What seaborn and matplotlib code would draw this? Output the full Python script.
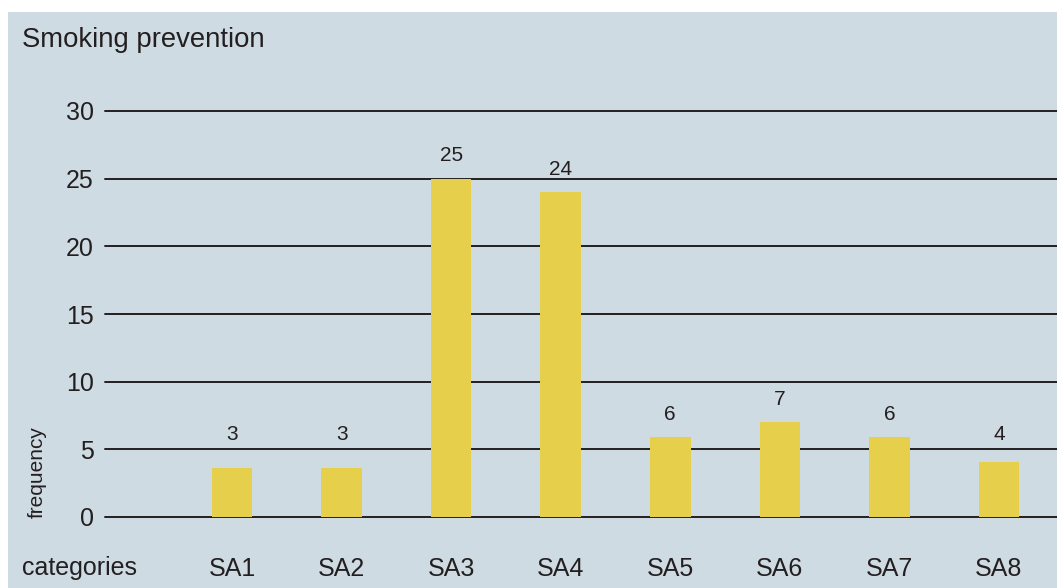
import matplotlib
matplotlib.use("Agg")
import matplotlib.pyplot as plt
import seaborn as sns
import pandas as pd
from matplotlib.patches import Rectangle

# Data
categories = ["SA1", "SA2", "SA3", "SA4", "SA5", "SA6", "SA7", "SA8"]
bar_heights = [3.6, 3.6, 25, 24, 5.9, 7, 5.9, 4.1]
value_labels = ["3", "3", "25", "24", "6", "7", "6", "4"]
y_ticks = [0, 5, 10, 15, 20, 25, 30]

df = pd.DataFrame({"category": categories, "frequency": bar_heights})

sns.set_theme(style="white")
plt.rcParams["font.family"] = ["Liberation Sans", "DejaVu Sans"]

panel = "#cfdbe3"
bar_col = "#e5cf4b"
ink = "#231f20"

fig = plt.figure(figsize=(10.57, 5.88), dpi=100, facecolor="white")
fig.patches.append(Rectangle((8 / 1057, 0), 1, 1 - 12 / 588, transform=fig.transFigure,
                             facecolor=panel, edgecolor="none", zorder=-5))

ax = fig.add_axes([105 / 1057, 1 - 517 / 588, 1 - 105 / 1057, (517 - 111) / 588])
ax.set_zorder(2)
ax.set_facecolor(panel)

sns.barplot(data=df, x="category", y="frequency", color=bar_col, width=0.37,
            saturation=1, linewidth=0, ax=ax, zorder=3)

ax.set_xlim(-1.16, 7.53)
ax.set_ylim(0, 30)
for t in y_ticks:
    ax.axhline(t, color=ink, lw=1.4, clip_on=False, zorder=2)

ax.set_yticks(y_ticks)
ax.tick_params(axis="both", length=0, labelsize=18, colors=ink)
ax.tick_params(axis="y", pad=8)
ax.tick_params(axis="x", pad=29)
ax.set_xlabel("")
ax.set_ylabel("")
sns.despine(ax=ax, left=True, bottom=True)

# value labels above bars, kept clear of the 5 gridline
for bar, lab in zip(ax.patches, value_labels):
    y = max(bar.get_height() + 1.7, 6.1)
    ax.text(bar.get_x() + bar.get_width() / 2, y, lab,
            ha="center", va="center", fontsize=15, color=ink)

fig.text(22 / 1057, 1 - 40 / 588, "Smoking prevention", fontsize=19.8,
         color=ink, ha="left", va="center")
fig.text(22 / 1057, 1 - 568 / 588, "categories", fontsize=18, color=ink,
         ha="left", va="center")
fig.text(37 / 1057, 1 - 472 / 588, "frequency", fontsize=15, color=ink,
         rotation=90, ha="center", va="center")

fig.savefig("out.png", dpi=100, facecolor="white")
